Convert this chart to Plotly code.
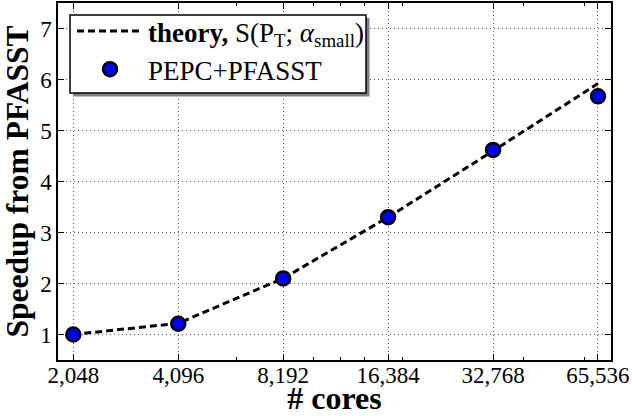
import plotly.graph_objects as go

cores = [2048, 4096, 8192, 16384, 32768, 65536]
tick_labels = ["2,048", "4,096", "8,192", "16,384", "32,768", "65,536"]
theory = [1.0, 1.22, 2.1, 3.3, 4.6, 5.92]
measured = [1.0, 1.21, 2.1, 3.3, 4.62, 5.67]
minor_ticks = [6000, 10000, 12000, 14000, 18000, 40000, 60000]

FONT = "Liberation Serif"

fig = go.Figure()
fig.add_trace(go.Scatter(
    x=cores, y=theory, mode="lines",
    name="<b>theory,</b> S(P<sub>T</sub>; <i>α</i><sub>small</sub>)",
    line=dict(color="black", width=3, dash="7px,4px"),
))
fig.add_trace(go.Scatter(
    x=cores, y=measured, mode="markers", name="PEPC+PFASST",
    marker=dict(color="#0000ff", size=14, line=dict(color="black", width=2.5)),
))

W, H = 632, 416
ml, mr, mt, mb = 58, 21, 3, 56
pw, ph = W - ml - mr, H - mt - mb

def px2paper(x, y):
    return (x - ml) / pw, (H - mb - y) / ph

# legend frame + shadow
sx0, sy0 = px2paper(73, 18)
sx1, sy1 = px2paper(369.5, 96.5)
fig.add_shape(type="rect", xref="paper", yref="paper", x0=sx0, x1=sx1, y0=sy1, y1=sy0,
              fillcolor="#808080", line=dict(width=0), layer="above")
bx0, by0 = px2paper(70, 15)
bx1, by1 = px2paper(366, 93)
fig.add_shape(type="rect", xref="paper", yref="paper", x0=bx0, x1=bx1, y0=by1, y1=by0,
              fillcolor="white", line=dict(color="black", width=1.5), layer="above")

lx, ly = px2paper(72, 7)

axis_common = dict(
    showline=True, linecolor="black", linewidth=1.5, mirror="allticks",
    ticks="inside", ticklen=6, tickwidth=1, tickcolor="black",
    showgrid=True, gridcolor="#555555", gridwidth=0.8, griddash="1px,3px",
    zeroline=False, automargin=False,
    tickfont=dict(family=FONT, size=23, color="black"),
)

fig.update_layout(
    width=W, height=H,
    margin=dict(l=ml, r=mr, t=mt, b=mb),
    paper_bgcolor="white", plot_bgcolor="white",
    font=dict(family=FONT, color="black"),
    xaxis=dict(
        type="log", range=[3.2674, 4.8538],
        tickvals=cores, ticktext=tick_labels, ticklabelstandoff=-6,
        title=dict(text="<b># cores</b>", font=dict(family=FONT, size=32), standoff=3),
        minor=dict(tickvals=minor_ticks, ticks="inside", ticklen=3, tickcolor="black", showgrid=False),
        **axis_common,
    ),
    yaxis=dict(
        range=[0.5, 7.5], tickvals=[1, 2, 3, 4, 5, 6, 7],
        title=dict(text="<b>Speedup from PFASST</b>", font=dict(family=FONT, size=31.5), standoff=4),
        **axis_common,
    ),
    legend=dict(
        x=lx, y=ly, xanchor="left", yanchor="top",
        bgcolor="rgba(0,0,0,0)", borderwidth=0,
        font=dict(family=FONT, size=27, color="black"),
        itemwidth=66, tracegroupgap=2,
    ),
    showlegend=True,
)

fig.write_html("out.html", config={"displayModeBar": False},
               post_script="document.body.style.margin='0px';document.body.style.overflow='hidden';")
